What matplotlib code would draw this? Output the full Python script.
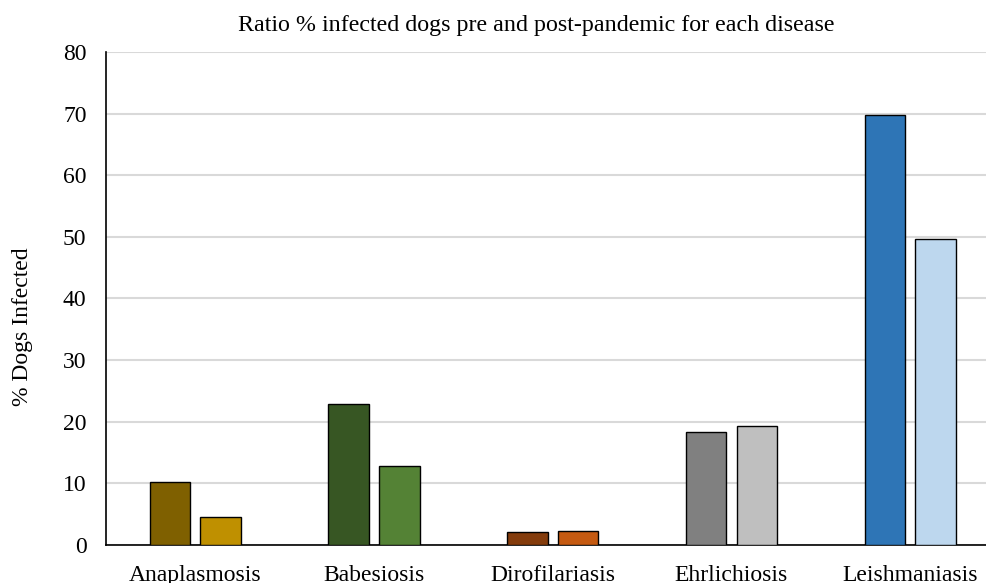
import numpy as np
import matplotlib.pyplot as plt

plt.rcParams['font.family'] = ['Liberation Serif', 'DejaVu Serif']

# Data
diseases = ["Anaplasmosis", "Babesiosis", "Dirofilariasis", "Ehrlichiosis", "Leishmaniasis"]
pre_pandemic = [10.3, 22.9, 2.2, 18.3, 69.8]
post_pandemic = [4.5, 12.9, 2.3, 19.3, 49.6]

pre_colors = ["#7F6000", "#375623", "#843C0C", "#808080", "#2E75B6"]
post_colors = ["#BF9000", "#548235", "#C55A11", "#BFBFBF", "#BDD7EE"]

x = np.arange(len(diseases))
width = 0.227
offset = 0.142

fig = plt.figure(figsize=(9.87, 5.83), dpi=100)
# the plot area runs a little past the right edge of the picture, as in the original
ax = fig.add_axes([0.1074, 0.065, 0.9053, 0.846])

ax.bar(x - offset, pre_pandemic, width, color=pre_colors, edgecolor="black", linewidth=1, zorder=3)
ax.bar(x + offset, post_pandemic, width, color=post_colors, edgecolor="black", linewidth=1, zorder=3)

ax.set_xlim(-0.5, len(diseases) - 0.5)
ax.set_ylim(0, 80)
ax.set_yticks(np.arange(0, 81, 10))
ax.set_xticks(x)
ax.set_xticklabels(diseases, fontsize=17)
ax.tick_params(axis='y', labelsize=17, length=0, pad=14)
ax.tick_params(axis='x', length=0, pad=14)

ax.yaxis.grid(True, color="#D9D9D9", linewidth=1.5, zorder=0)
ax.set_axisbelow(True)
for s in ["top", "right"]:
    ax.spines[s].set_visible(False)
ax.spines["left"].set_linewidth(1.2)
ax.spines["bottom"].set_linewidth(1.2)

ax.set_ylabel("% Dogs Infected", fontsize=17)
ax.yaxis.set_label_coords(-0.082, 0.442)
ax.set_title("Ratio % infected dogs pre and post-pandemic for each disease",
             fontsize=17.3, pad=15, x=0.481)

fig.savefig("out.png", dpi=100)
